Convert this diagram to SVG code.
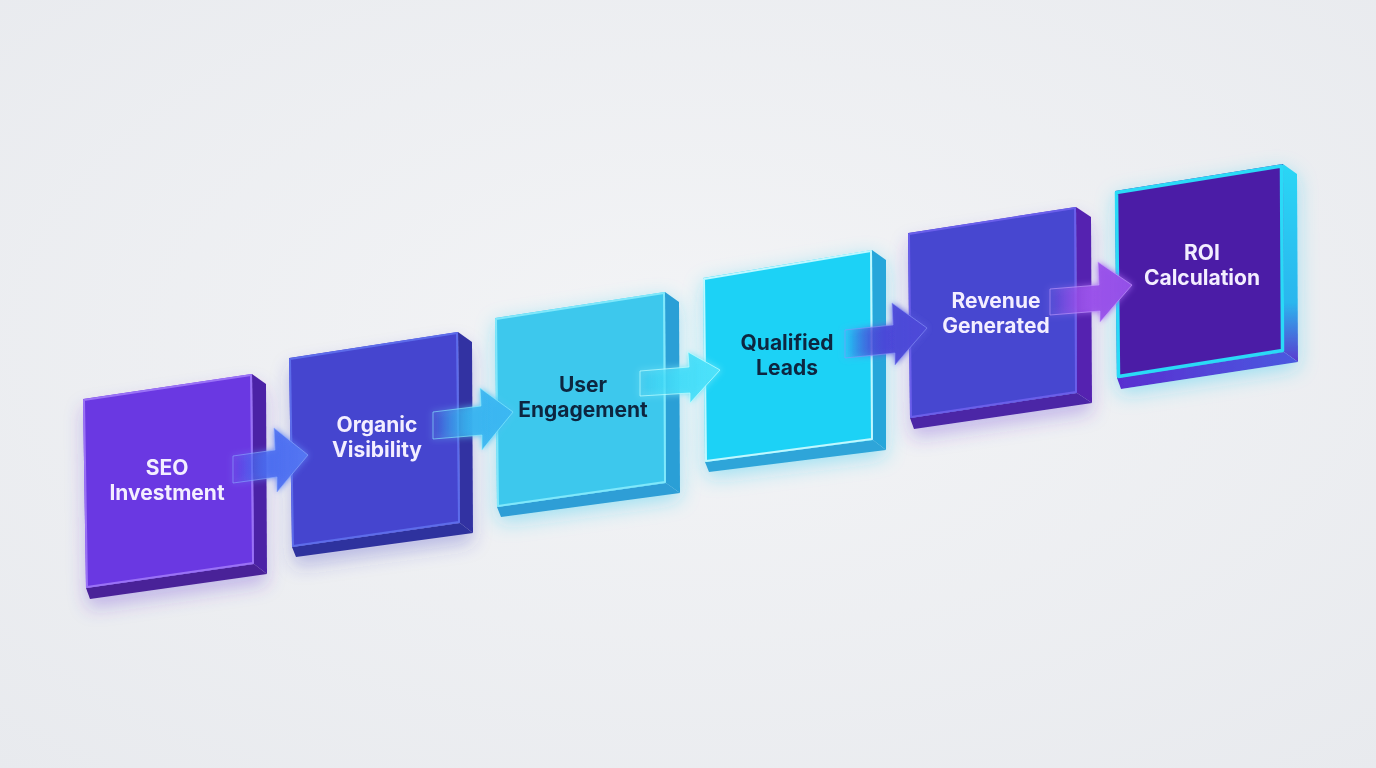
<svg xmlns="http://www.w3.org/2000/svg" width="1376" height="768" viewBox="0 0 1376 768">
  <defs>
    <radialGradient id="bg" cx="50%" cy="45%" r="75%">
      <stop offset="0" stop-color="#f3f4f6"/>
      <stop offset="1" stop-color="#e8eaee"/>
    </radialGradient>
    <filter id="shPurple" x="-30%" y="-30%" width="160%" height="170%">
      <feDropShadow dx="0" dy="10" stdDeviation="9" flood-color="#5a2bd0" flood-opacity="0.28"/>
    </filter>
    <filter id="shBlue" x="-30%" y="-30%" width="160%" height="170%">
      <feDropShadow dx="0" dy="10" stdDeviation="9" flood-color="#3a3ac0" flood-opacity="0.28"/>
    </filter>
    <filter id="shCyan" x="-30%" y="-30%" width="160%" height="170%">
      <feDropShadow dx="0" dy="6" stdDeviation="10" flood-color="#22c8f0" flood-opacity="0.4"/>
    </filter>
    <filter id="glow" x="-40%" y="-40%" width="180%" height="180%">
      <feGaussianBlur in="SourceGraphic" stdDeviation="3" result="b"/>
      <feMerge><feMergeNode in="b"/><feMergeNode in="SourceGraphic"/></feMerge>
    </filter>
    <linearGradient id="a1" x1="0" y1="0" x2="1" y2="0">
      <stop offset="0" stop-color="#4a6cf0" stop-opacity="0"/>
      <stop offset="0.5" stop-color="#4a6cf0" stop-opacity="0.85"/>
      <stop offset="1" stop-color="#5577f2"/>
    </linearGradient>
    <linearGradient id="a2" x1="0" y1="0" x2="1" y2="0">
      <stop offset="0" stop-color="#38b4f0" stop-opacity="0"/>
      <stop offset="0.5" stop-color="#38b4f0" stop-opacity="0.85"/>
      <stop offset="1" stop-color="#3cb8f2"/>
    </linearGradient>
    <linearGradient id="a3" x1="0" y1="0" x2="1" y2="0">
      <stop offset="0" stop-color="#44dcf8" stop-opacity="0"/>
      <stop offset="0.5" stop-color="#44dcf8" stop-opacity="0.85"/>
      <stop offset="1" stop-color="#4ee2fa"/>
    </linearGradient>
    <linearGradient id="a4" x1="0" y1="0" x2="1" y2="0">
      <stop offset="0" stop-color="#4a48d8" stop-opacity="0"/>
      <stop offset="0.5" stop-color="#4a48d8" stop-opacity="0.9"/>
      <stop offset="1" stop-color="#4e4ad8"/>
    </linearGradient>
    <linearGradient id="a5" x1="0" y1="0" x2="1" y2="0">
      <stop offset="0" stop-color="#9a52ea" stop-opacity="0"/>
      <stop offset="0.5" stop-color="#9a52ea" stop-opacity="0.9"/>
      <stop offset="1" stop-color="#9450e8"/>
    </linearGradient>
    <linearGradient id="roiSide" x1="0" y1="0" x2="0" y2="1">
      <stop offset="0" stop-color="#2ad6f5"/>
      <stop offset="0.7" stop-color="#2ab6ee"/>
      <stop offset="1" stop-color="#5a3ad0"/>
    </linearGradient>
    <linearGradient id="roiBottom" x1="0" y1="0" x2="1" y2="0">
      <stop offset="0" stop-color="#5a2ed0"/>
      <stop offset="1" stop-color="#4a5ae0"/>
    </linearGradient>
  </defs>
  <style>
    .lbl { font-family: Inter, "Liberation Sans", sans-serif; font-size: 21px; font-weight: 700; text-anchor: middle; }
    .lt { fill: #f3eeff; }
    .dk { fill: #0d2740; }
    .edge { fill: none; stroke-width: 2; stroke-linejoin: round; }
  </style>
  <rect width="1376" height="768" fill="url(#bg)"/>

  <g id="node-seo" filter="url(#shPurple)">
    <polygon points="252,374 266,384 267,574 254,564" fill="#4c22a6"/>
    <polygon points="86,588 254,564 267,574 90,599" fill="#4a2298"/>
    <polygon points="83,399 252,374 254,564 86,588" fill="#6a37e2"/>
    <polygon class="edge" points="84,400 251,375 253,563 87,587" stroke="#9a72f6"/>
    <text class="lbl lt" x="167" y="475">SEO</text>
    <text class="lbl lt" x="167" y="500">Investment</text>
  </g>

  <g id="node-organic" filter="url(#shBlue)">
    <polygon points="458,332 472,342 473,533 460,523" fill="#3232a2"/>
    <polygon points="292,547 460,523 473,533 296,557" fill="#2f329e"/>
    <polygon points="289,358 458,332 460,523 292,547" fill="#4545cf"/>
    <polygon class="edge" points="290,359 457,333 459,522 293,546" stroke="#5d6cea"/>
    <text class="lbl lt" x="377" y="432">Organic</text>
    <text class="lbl lt" x="377" y="457">Visibility</text>
  </g>

  <g id="node-user" filter="url(#shCyan)">
    <polygon points="665,292 679,302 680,493 666,483" fill="#2b9fd6"/>
    <polygon points="497,507 666,483 680,493 501,517" fill="#2e9ed6"/>
    <polygon points="495,318 665,292 666,483 497,507" fill="#3ec8ed"/>
    <polygon class="edge" points="496,319 664,293 665,482 498,506" stroke="#80e8fb"/>
    <text class="lbl dk" x="583" y="392">User</text>
    <text class="lbl dk" x="583" y="417">Engagement</text>
  </g>

  <g id="node-qualified" filter="url(#shCyan)">
    <polygon points="872,250 886,260 886,450 873,440" fill="#28a6da"/>
    <polygon points="705,462 873,440 886,450 709,472" fill="#2fa5d9"/>
    <polygon points="703,278 872,250 873,440 705,462" fill="#1fd2f6"/>
    <polygon class="edge" points="704,279 871,251 872,439 706,461" stroke="#c0f8ff"/>
    <text class="lbl dk" x="787" y="350">Qualified</text>
    <text class="lbl dk" x="787" y="375">Leads</text>
  </g>

  <g id="node-revenue" filter="url(#shPurple)">
    <polygon points="1076,207 1091,217 1092,403 1077,393" fill="#5424b0"/>
    <polygon points="910,418 1077,393 1092,403 914,429" fill="#4b25a6"/>
    <polygon points="908,233 1076,207 1077,393 910,418" fill="#4646d0"/>
    <polygon class="edge" points="909,234 1075,208 1076,392 911,417" stroke="#6a5eea"/>
    <text class="lbl lt" x="996" y="308">Revenue</text>
    <text class="lbl lt" x="996" y="333">Generated</text>
  </g>

  <g id="node-roi" filter="url(#shCyan)">
    <polygon points="1283,164 1297,174 1298,362 1284,352" fill="url(#roiSide)"/>
    <polygon points="1117,378 1284,352 1298,362 1121,389" fill="url(#roiBottom)"/>
    <polygon points="1115,191 1283,164 1284,352 1117,378" fill="#4c1fa6"/>
    <polygon points="1116.5,192.5 1281.5,166 1282.5,350.5 1118.5,376.5" fill="none" stroke="#2adaf7" stroke-width="3.5" stroke-linejoin="round"/>
    <text class="lbl lt" x="1202" y="260">ROI</text>
    <text class="lbl lt" x="1202" y="285">Calculation</text>
  </g>

  <g id="connectors" filter="url(#glow)">
    <polygon points="233,456 275,450 274,428 308,455 277,492 277,477 233,483" fill="url(#a1)" stroke="#8cabff" stroke-width="1" stroke-opacity="0.6"/>
    <polygon points="433,412 481,406 480,388 513,412 482,450 482,435 433,439" fill="url(#a2)" stroke="#8af2ff" stroke-width="1" stroke-opacity="0.6"/>
    <polygon points="640,371 689,367 688,352 720,370 690,403 690,393 640,396" fill="url(#a3)" stroke="#c0ffff" stroke-width="1" stroke-opacity="0.7"/>
    <polygon points="845,330 893,325 892,303 927,328 895,365 895,353 845,358" fill="url(#a4)" stroke="#8a94fa" stroke-width="1" stroke-opacity="0.6"/>
    <polygon points="1050,289 1099,285 1098,262 1132,285 1100,322 1100,311 1050,315" fill="url(#a5)" stroke="#c79cff" stroke-width="1" stroke-opacity="0.6"/>
  </g>
</svg>
